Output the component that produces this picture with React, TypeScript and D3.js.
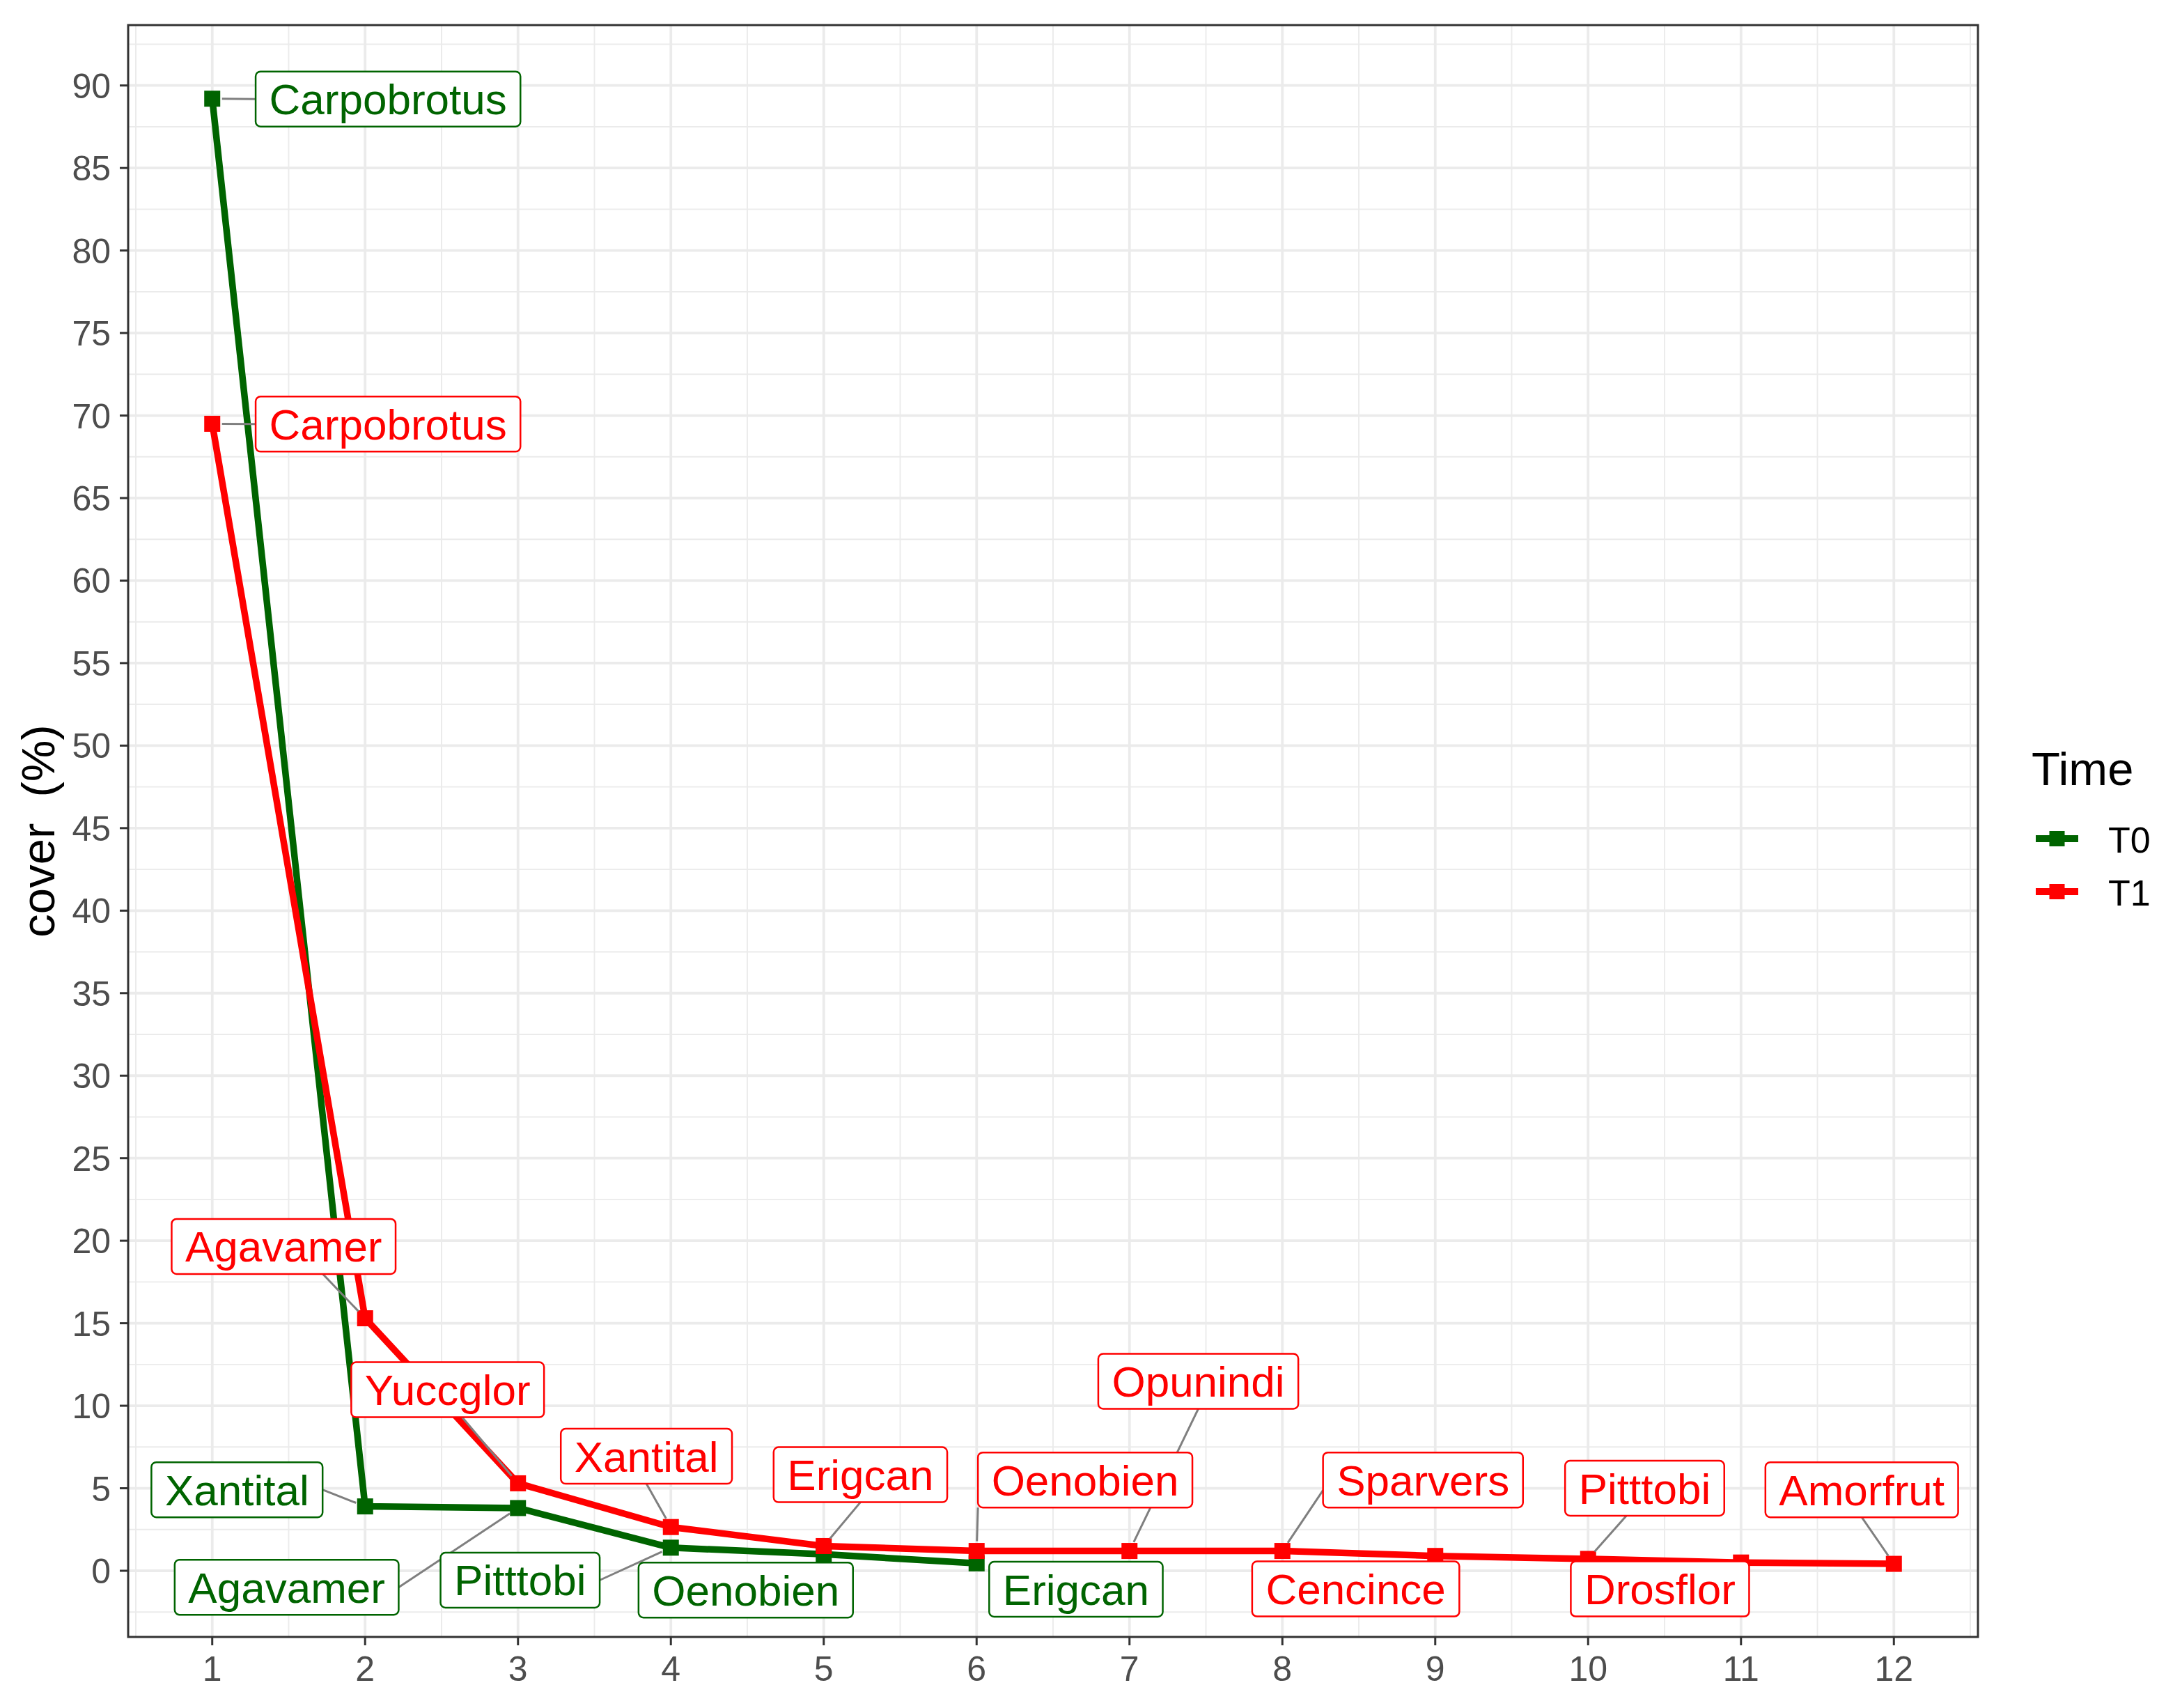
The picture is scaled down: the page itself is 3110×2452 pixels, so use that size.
import React, { useEffect, useRef } from 'react';
import * as d3 from 'd3';

// ranks on the x axis
const ranks = [1, 2, 3, 4, 5, 6, 7, 8, 9, 10, 11, 12];

// T0 survey
const t0Species = ['Carpobrotus', 'Xantital', 'Agavamer', 'Pitttobi', 'Oenobien', 'Erigcan'];
const t0Cover = [89.2, 3.9, 3.8, 1.4, 1.0, 0.45];

// T1 survey
const t1Species = ['Carpobrotus', 'Agavamer', 'Yuccglor', 'Xantital', 'Erigcan', 'Oenobien',
    'Opunindi', 'Sparvers', 'Cencince', 'Pitttobi', 'Drosflor', 'Amorfrut'];
const t1Cover = [69.5, 15.3, 5.3, 2.65, 1.5, 1.2, 1.2, 1.2, 0.9, 0.72, 0.5, 0.42];

const yTicks = d3.range(0, 91, 5);
const xTicks = ranks;

// where the repelled labels ended up (data units) and which side of the box the leader touches
const t0LabelPos = [[2.15, 89.18], [1.162, 4.91], [1.487, -1.0], [3.014, -0.57], [4.49, -1.17], [6.65, -1.12]];
const t0Anchor = [[-1, 0], [1, 0], [1, 0], [1, 0], null, null];
const t1LabelPos = [[2.15, 69.48], [1.467, 19.65], [2.54, 10.97], [3.84, 6.94], [5.24, 5.82], [6.71, 5.5],
    [7.45, 11.48], [8.92, 5.5], [8.48, -1.1], [10.37, 5.0], [10.47, -1.1], [11.79, 4.91]];
const t1Anchor = [[-1, 0], [0.35, 1], [0.15, 1], [0, 1], [0, 1], [-1, 1], [0, 1], [-1, 0.37], null, [-0.23, 1], null, [0, 1]];

const FONT = '"Liberation Sans", Arial, sans-serif';

const App = () => {
    const ref = useRef(null);

    useEffect(() => {
        const svg = d3.select(ref.current);
        svg.selectAll('*').remove();

        const left = 184, right = 2840, top = 36, bottom = 2350;
        const x = d3.scaleLinear().domain([0.45, 12.55]).range([left, right]);
        const y = d3.scaleLinear().domain([-4.01, 93.66]).range([bottom, top]);

        svg.append('rect').attr('width', 3110).attr('height', 2452).attr('fill', '#fff');

        // grid
        const grid = svg.append('g');
        const xMinor = d3.range(0.5, 12.6, 1);
        const yMinor = d3.range(-2.5, 93, 5);
        grid.selectAll('.xmin').data(xMinor).enter().append('line')
            .attr('x1', d => x(d)).attr('x2', d => x(d)).attr('y1', top).attr('y2', bottom)
            .attr('stroke', '#ebebeb').attr('stroke-width', 1.9);
        grid.selectAll('.ymin').data(yMinor).enter().append('line')
            .attr('y1', d => y(d)).attr('y2', d => y(d)).attr('x1', left).attr('x2', right)
            .attr('stroke', '#ebebeb').attr('stroke-width', 1.9);
        grid.selectAll('.xmaj').data(xTicks).enter().append('line')
            .attr('x1', d => x(d)).attr('x2', d => x(d)).attr('y1', top).attr('y2', bottom)
            .attr('stroke', '#ebebeb').attr('stroke-width', 3.8);
        grid.selectAll('.ymaj').data(yTicks).enter().append('line')
            .attr('y1', d => y(d)).attr('y2', d => y(d)).attr('x1', left).attr('x2', right)
            .attr('stroke', '#ebebeb').attr('stroke-width', 3.8);

        const series = [
            { name: 'T0', color: '#006400', species: t0Species, cover: t0Cover, pos: t0LabelPos, anchor: t0Anchor },
            { name: 'T1', color: '#ff0000', species: t1Species, cover: t1Cover, pos: t1LabelPos, anchor: t1Anchor },
        ];

        const line = d3.line().x((d, i) => x(ranks[i])).y(d => y(d));
        const ms = 23;

        series.forEach(s => {
            svg.append('path')
                .datum(s.cover)
                .attr('d', line)
                .attr('fill', 'none')
                .attr('stroke', s.color)
                .attr('stroke-width', 9.5)
                .attr('stroke-linejoin', 'round');
        });
        series.forEach(s => {
            svg.append('g').selectAll('rect')
                .data(s.cover)
                .enter()
                .append('rect')
                .attr('x', (d, i) => x(ranks[i]) - ms / 2)
                .attr('y', d => y(d) - ms / 2)
                .attr('width', ms)
                .attr('height', ms)
                .attr('fill', s.color);
        });

        // labels + leader segments
        const labelG = svg.append('g');
        const segG = labelG.append('g');
        const boxG = labelG.append('g');
        const padX = 19.5, boxH = 79;
        series.forEach(s => {
            s.species.forEach((name, i) => {
                const cx = x(s.pos[i][0]);
                const cy = y(s.pos[i][1]);
                const g = boxG.append('g');
                const rect = g.append('rect');
                const txt = g.append('text')
                    .attr('x', cx)
                    .attr('y', cy + 22)
                    .attr('text-anchor', 'middle')
                    .attr('font-family', FONT)
                    .attr('font-size', 62)
                    .attr('fill', s.color)
                    .text(name);
                const tw = txt.node().getComputedTextLength();
                const w = tw + padX * 2;
                rect.attr('x', cx - w / 2).attr('y', cy - boxH / 2)
                    .attr('width', w).attr('height', boxH)
                    .attr('rx', 7).attr('ry', 7)
                    .attr('fill', '#fff')
                    .attr('stroke', s.color)
                    .attr('stroke-width', 2.5);

                const a = s.anchor[i];
                if (a) {
                    const px = x(ranks[i]), py = y(s.cover[i]);
                    const ex = cx + a[0] * w / 2, ey = cy + a[1] * boxH / 2;
                    const len = Math.hypot(ex - px, ey - py);
                    const sx = px + (ex - px) / len * 14, sy = py + (ey - py) / len * 14;
                    segG.append('line')
                        .attr('x1', sx).attr('y1', sy).attr('x2', ex).attr('y2', ey)
                        .attr('stroke', '#7f7f7f').attr('stroke-width', 3);
                }
            });
        });

        // panel border
        svg.append('rect')
            .attr('x', left).attr('y', top)
            .attr('width', right - left).attr('height', bottom - top)
            .attr('fill', 'none').attr('stroke', '#333333').attr('stroke-width', 3);

        // axes
        const yAxis = svg.append('g');
        yAxis.selectAll('line').data(yTicks).enter().append('line')
            .attr('x1', left - 12).attr('x2', left).attr('y1', d => y(d)).attr('y2', d => y(d))
            .attr('stroke', '#333333').attr('stroke-width', 3);
        yAxis.selectAll('text').data(yTicks).enter().append('text')
            .attr('x', 159).attr('y', d => y(d) + 18)
            .attr('text-anchor', 'end')
            .attr('font-family', FONT).attr('font-size', 50).attr('fill', '#4d4d4d')
            .text(d => d);

        const xAxis = svg.append('g');
        xAxis.selectAll('line').data(xTicks).enter().append('line')
            .attr('x1', d => x(d)).attr('x2', d => x(d)).attr('y1', bottom).attr('y2', bottom + 12)
            .attr('stroke', '#333333').attr('stroke-width', 3);
        xAxis.selectAll('text').data(xTicks).enter().append('text')
            .attr('x', d => x(d)).attr('y', 2413)
            .attr('text-anchor', 'middle')
            .attr('font-family', FONT).attr('font-size', 50).attr('fill', '#4d4d4d')
            .text(d => d);

        svg.append('text')
            .attr('transform', `translate(78,${(top + bottom) / 2}) rotate(-90)`)
            .attr('text-anchor', 'middle')
            .attr('font-family', FONT).attr('font-size', 67).attr('fill', '#000')
            .attr('xml:space', 'preserve')
            .style('white-space', 'pre')
            .text('cover  (%)');

        // legend
        const legend = svg.append('g');
        legend.append('text')
            .attr('x', 2917).attr('y', 1127)
            .attr('font-family', FONT).attr('font-size', 67).attr('fill', '#000')
            .text('Time');
        const keyY = [1204, 1280];
        series.forEach((s, i) => {
            legend.append('line')
                .attr('x1', 2923).attr('x2', 2984).attr('y1', keyY[i]).attr('y2', keyY[i])
                .attr('stroke', s.color).attr('stroke-width', 10);
            legend.append('rect')
                .attr('x', 2953.5 - 11).attr('y', keyY[i] - 11).attr('width', 22).attr('height', 22)
                .attr('fill', s.color);
            legend.append('text')
                .attr('x', 3027).attr('y', keyY[i] + 20)
                .attr('font-family', FONT).attr('font-size', 52).attr('fill', '#000')
                .text(s.name);
        });
    }, []);

    return (
        <svg ref={ref} width={3110} height={2452}
            style={{ position: 'absolute', left: 0, top: 0, display: 'block' }}></svg>
    );
};

export default App;
